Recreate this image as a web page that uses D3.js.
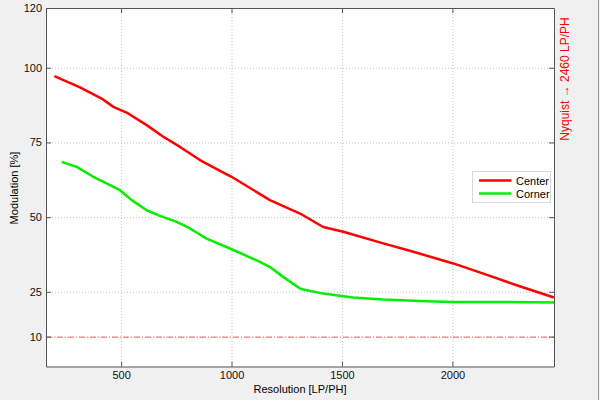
<!DOCTYPE html>
<html>
<head>
<meta charset="utf-8">
<script src="https://cdn.jsdelivr.net/npm/d3@7"></script>
<style>
  body { margin: 0; background: #f0f0f0; }
  svg { display: block; font-family: "Liberation Sans", Arial, sans-serif; }
  .grid line { stroke: #c4c4c4; stroke-dasharray: 1,2; }
  .axis path, .axis line { stroke: #555; }
  .axis text { fill: #111; font-size: 11px; }
</style>
</head>
<body>
<svg id="chart" width="600" height="400"></svg>
<script>
// values
const centerRes = [198, 314, 412, 465, 525, 616, 691, 767, 857, 948, 1000, 1174, 1310, 1415, 1506, 1687, 1823, 2004, 2140, 2291, 2460];
const centerMod = [97.2, 93.4, 89.7, 86.9, 85, 80.8, 76.9, 73.5, 69.1, 65.5, 63.5, 55.7, 51.2, 46.7, 45.1, 41.2, 38.4, 34.5, 31.1, 27.2, 23.1];

const cornerRes = [231, 299, 374, 404, 450, 495, 548, 570, 616, 676, 752, 812, 887, 993, 1129, 1174, 1234, 1310, 1325, 1415, 1506, 1551, 1687, 1883, 2004, 2215, 2460];
const cornerMod = [68.5, 66.8, 63.5, 62.4, 60.7, 59, 55.7, 54.6, 52.3, 50.4, 48.4, 46.2, 42.8, 39.5, 35, 33.3, 30, 26.1, 25.8, 24.4, 23.5, 23.1, 22.4, 21.8, 21.6, 21.6, 21.4];

const xTicks = [500, 1000, 1500, 2000];
const yTicks = [10, 25, 50, 75, 100, 120];
const seriesNames = ['Center', 'Corner'];
const seriesColors = ['#ff0000', '#00f000'];
const nyquist = 2460;
const threshold = 10;

function makeChart() {
  let svg = d3.select('#chart');

  // plot box
  let left = 46, right = 554, top = 8, bottom = 366.5;

  let xScale = d3.scaleLinear()
    .domain([160, nyquist])
    .range([left, right]);

  let yScale = d3.scaleLinear()
    .domain([0, 120])
    .range([bottom, top]);

  // figure frame line on the right
  svg.append('line')
    .attr('x1', 598.5).attr('x2', 598.5)
    .attr('y1', 0).attr('y2', 400)
    .attr('stroke', '#9a9a9a');

  svg.append('rect')
    .attr('x', left).attr('y', top)
    .attr('width', right - left).attr('height', bottom - top)
    .attr('fill', '#fff');

  // GRID
  svg.append('g')
    .attr('class', 'grid')
    .selectAll('line.v')
    .data(xTicks)
    .enter()
    .append('line')
    .attr('x1', (d) => xScale(d) + 0.5).attr('x2', (d) => xScale(d) + 0.5)
    .attr('y1', top).attr('y2', bottom);

  svg.append('g')
    .attr('class', 'grid')
    .selectAll('line.h')
    .data(yTicks)
    .enter()
    .append('line')
    .attr('x1', left).attr('x2', right)
    .attr('y1', (d) => yScale(d) + 0.5).attr('y2', (d) => yScale(d) + 0.5);

  // 10% line, dash-dot
  svg.append('line')
    .attr('x1', left).attr('x2', right)
    .attr('y1', yScale(threshold) + 0.5).attr('y2', yScale(threshold) + 0.5)
    .attr('stroke', '#f06464')
    .attr('stroke-dasharray', '6,2,1,2');

  // CURVES
  let line = d3.line()
    .x((d) => xScale(d[0]))
    .y((d) => yScale(d[1]));

  let series = [
    d3.zip(centerRes, centerMod),
    d3.zip(cornerRes, cornerMod)
  ];

  svg.selectAll('path.curve')
    .data(series)
    .enter()
    .append('path')
    .attr('class', 'curve')
    .attr('d', line)
    .attr('fill', 'none')
    .attr('stroke', (d, i) => seriesColors[i])
    .attr('stroke-width', 2.5)
    .attr('stroke-linejoin', 'round');

  // AXES (ticks point inward, mirrored on all sides)
  svg.append('g')
    .attr('class', 'axis')
    .attr('transform', `translate(0, ${bottom})`)
    .call(d3.axisBottom(xScale).tickValues(xTicks).tickFormat(d3.format('d'))
      .tickSize(-5).tickPadding(5).tickSizeOuter(0));

  svg.append('g')
    .attr('class', 'axis')
    .attr('transform', `translate(0, ${top})`)
    .call(d3.axisTop(xScale).tickValues(xTicks).tickSize(-5).tickFormat('').tickSizeOuter(0));

  svg.append('g')
    .attr('class', 'axis')
    .attr('transform', `translate(${left}, 0)`)
    .call(d3.axisLeft(yScale).tickValues(yTicks).tickSize(-5).tickPadding(4).tickSizeOuter(0));

  svg.append('g')
    .attr('class', 'axis')
    .attr('transform', `translate(${right}, 0)`)
    .call(d3.axisRight(yScale).tickValues(yTicks).tickSize(-5).tickFormat('').tickSizeOuter(0));

  svg.selectAll('.axis .domain').attr('stroke', '#555');

  // LABELS
  svg.append('text')
    .attr('x', (left + right) / 2)
    .attr('y', 393)
    .attr('text-anchor', 'middle')
    .attr('font-size', '11px')
    .text('Resolution [LP/PH]');

  svg.append('text')
    .attr('transform', 'translate(18, 188) rotate(-90)')
    .attr('text-anchor', 'middle')
    .attr('font-size', '11px')
    .text('Modulation [%]');

  svg.append('text')
    .attr('transform', 'translate(569, 79) rotate(-90)')
    .attr('text-anchor', 'middle')
    .attr('font-size', '12px')
    .attr('fill', '#ff0000')
    .text('Nyquist \u2192 ' + nyquist + ' LP/PH');

  // LEGEND
  let legend = svg.append('g').attr('transform', 'translate(472.5, 171.5)');
  legend.append('rect')
    .attr('width', 78).attr('height', 31)
    .attr('fill', '#fff')
    .attr('stroke', '#d8d8d8');

  let item = legend.selectAll('g.item')
    .data(seriesNames)
    .enter()
    .append('g')
    .attr('transform', (d, i) => `translate(0, ${9 + i * 13})`);

  item.append('line')
    .attr('x1', 6.5).attr('x2', 39)
    .attr('stroke', (d, i) => seriesColors[i])
    .attr('stroke-width', 2.5);

  item.append('text')
    .attr('x', 43.5)
    .attr('y', 4)
    .attr('font-size', '11px')
    .text((d) => d);
}

makeChart();
</script>
</body>
</html>
